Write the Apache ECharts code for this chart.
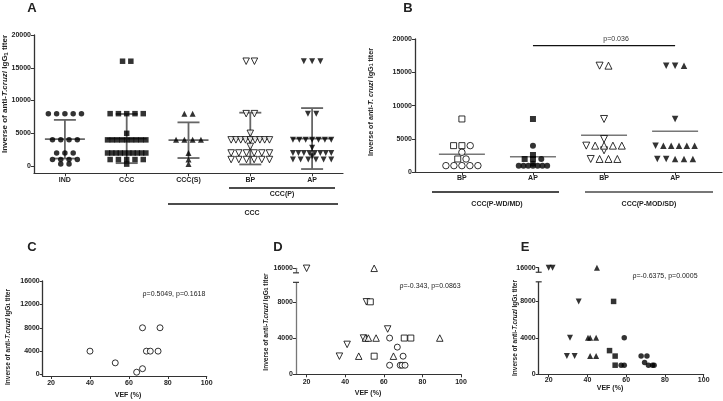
<!DOCTYPE html>
<html><head><meta charset="utf-8">
<script src="https://cdn.jsdelivr.net/npm/echarts@6/dist/echarts.min.js"></script>
<style>html,body{margin:0;padding:0;background:#fff}#c{width:723px;height:401px}</style>
</head><body><div id="c"></div>
<script>
// ---------- DATA ----------
const catA = ['IND', 'CCC', 'CCC(S)', 'BP', 'AP'];
const yTicksA = [0, 5000, 10000, 15000, 20000];
const aIND  = [8000,8000,8000,8000,8000, 4000,4000,4000,4000, 2000,2000,2000, 1000,1000,1000,1000, 300,300];
const aCCC  = [16000,16000, 8000,8000,8000,8000,8000, 5000, 4000,4000,4000,4000,4000,4000,4000,4000,4000,
               2000,2000,2000,2000,2000,2000,2000,2000,2000,2000, 1000,1000,1000,1000,1000, 300];
const aCCCS = [8000,8000, 4000,4000,4000,4000, 2000, 1000, 300];
const aBP   = [16000,16000, 8000,8000, 5000, 4000,4000,4000,4000,4000,4000,4000,4000,4000, 3000,
               2000,2000,2000,2000,2000,2000, 1000,1000,1000,1000,1000,1000];
const aAP   = [16000,16000,16000, 8000,8000, 4000,4000,4000,4000,4000,4000,4000, 2800,
               2000,2000,2000,2000,2000,2000,2000,2000, 1500, 1000,1000,1000,1000,1000,1000];
const meanA = [4100, 4200, 3950, 4200, 4200];
const sdA   = [2950, 3750, 2720, 3950, 4650];

const catB = ['BP', 'AP', 'BP', 'AP'];
const yTicksB = [0, 5000, 10000, 15000, 20000];
const bBP1sq = [8000, 4000, 4000, 2000];
const bBP1ci = [4000, 3000, 2000, 1000, 1000, 1000, 1000, 1000];
const bAP1sq = [8000, 2600, 2000, 2000];
const bAP1ci = [4000, 2000, 1300, 1000, 1000, 1000, 1000, 1000, 1000, 1000];
const bBP2dn = [16000, 8000, 5000, 4000, 3300, 2000];
const bBP2up = [16000, 4000, 4000, 4000, 4000, 2000, 2000, 2000];
const bAP2dn = [16000, 16000, 8000, 4000, 2000, 2000];
const bAP2up = [16000, 4000, 4000, 4000, 4000, 4000, 2000, 2000, 2000];
const meanB = [2700, 2330, 5570, 6160];
const pTextB = 'p=0.036';
const pLevelB = 19000;

const vefTicks = [20, 40, 60, 80, 100];
const yTicksC = [0, 4000, 8000, 12000, 16000];
const yTicksDE = [0, 4000, 8000, 16000];
const cCi = [[40,4000],[53,2000],[64,400],[67,1000],[67,8000],[69,4000],[71,4000],[75,4000],[76,8000]];
const dDn = [[20,16000],[51,8000],[62,5000],[41,3300],[37,2000],[49.5,4000]];
const dUp = [[55,16000],[50.5,4000],[52,4000],[56,4000],[89,4000],[47,2000],[65,2000]];
const dSq = [[53,8000],[70.6,4000],[74,4000],[55,2000]];
const dCi = [[63,4000],[67,3000],[70,2000],[63,1000],[68.5,1000],[69.5,1000],[71,1000]];
const eDn = [[20,16000],[22,16000],[35.5,8000],[31,4000],[29.4,2000],[33.4,2000]];
const eUp = [[44.9,16000],[40.3,4000],[41.4,4000],[44.5,4000],[41.4,2000],[44.5,2000]];
const eSq = [[53.5,8000],[51.4,2600],[54.3,2000],[54.3,1000]];
const eCi = [[59,4000],[57.4,1000],[59,1000],[67.7,2000],[70.7,2000],[69.5,1300],[71.5,1000],[73.6,1000],[74.4,1000]];
const corrC = 'ρ=0.5049, p=0.1618';
const corrD = 'ρ=-0.343, p=0.0863';
const corrE = 'ρ=-0.6375, p=0.0005';

// ---------- HELPERS ----------
const FONT = '"Liberation Sans", Arial, sans-serif';
const TOP = 11700;           // display position of the 16000 value above the axis break
const brk = v => (v > 8000 ? TOP : v);
const BRK_LO = 10150, BRK_HI = 11200;

function swarm(ci, seriesVals, step0, span) {
  const rows = new Map();
  seriesVals.forEach((vals, si) => vals.forEach(v => {
    if (!rows.has(v)) rows.set(v, []);
    rows.get(v).push(si);
  }));
  const out = seriesVals.map(() => []);
  rows.forEach((row, v) => {
    const n = row.length;
    const step = n > 1 ? Math.min(step0, span / (n - 1)) : 0;
    row.forEach((si, k) => out[si].push([ci + (k - (n - 1) / 2) * step, v]));
  });
  return out;
}

const lbl = {fontFamily: FONT, fontWeight: 'bold', fontSize: 7, color: '#222'};
function xAx(gi, min, max, vals, fmt, margin) {
  return {gridIndex: gi, type: 'value', min, max,
    axisLine: {onZero: false, lineStyle: {color: '#333', width: 1.2}},
    axisTick: {customValues: vals, length: 3, lineStyle: {color: '#333'}},
    axisLabel: Object.assign({customValues: vals, formatter: fmt, margin: margin}, lbl),
    splitLine: {show: false}};
}
function yAx(gi, min, max, vals, fmt, color) {
  return {gridIndex: gi, type: 'value', min, max,
    axisLine: {show: true, onZero: false, lineStyle: {color: color || '#333', width: 1.3}},
    axisTick: {show: true, customValues: vals, length: 3, lineStyle: {color: '#333'}},
    axisLabel: Object.assign({customValues: vals, formatter: fmt, margin: 3}, lbl),
    splitLine: {show: false}};
}
const openSt = {color: '#fff', borderColor: '#000', borderWidth: 1};
const fillSt = {color: '#000'};
function sc(gi, data, symbol, size, style, rot) {
  return {type: 'scatter', xAxisIndex: gi, yAxisIndex: gi, data, symbol, symbolSize: size,
    symbolRotate: rot || 0, itemStyle: style, silent: true, z: 3, animation: false};
}
function yTitle(x, y, spacedCruzi, fs) {
  return {type: 'text', x, y, rotation: Math.PI / 2,
    style: {text: '{n|Inverse of anti-}{i|' + (spacedCruzi ? 'T. cruzi' : 'T.cruzi') + '}{n| IgG}{s|1}{n| titer}',
      align: 'center', verticalAlign: 'middle',
      rich: {n: {fontFamily: FONT, fontWeight: 'bold', fontSize: fs, fill: '#222'},
             i: {fontFamily: FONT, fontWeight: 'bold', fontStyle: 'italic', fontSize: fs, fill: '#222'},
             s: {fontFamily: FONT, fontWeight: 'bold', fontSize: fs * 0.7, fill: '#222', verticalAlign: 'bottom'}}}};
}
function txt(x, y, t, size, bold, align) {
  return {type: 'text', x, y, style: {text: t, fontFamily: FONT, fontSize: size,
    fontWeight: bold ? 'bold' : 'normal', fill: '#222', align: align || 'center', verticalAlign: 'middle'}};
}
function hline(x1, x2, y, color, w) {
  return {type: 'line', shape: {x1, y1: y, x2, y2: y}, style: {stroke: color, lineWidth: w}};
}
function breakSeries(gi, xmin) {
  return {type: 'custom', xAxisIndex: gi, yAxisIndex: gi, data: [[xmin, BRK_LO, BRK_HI]], z: 4, silent: true,
    renderItem: (p, api) => {
      const lo = api.coord([api.value(0), api.value(1)]);
      const hi = api.coord([api.value(0), api.value(2)]);
      const st = {stroke: '#333', lineWidth: 1.2};
      return {type: 'group', children: [
        {type: 'rect', shape: {x: lo[0] - 3, y: hi[1], width: 6, height: lo[1] - hi[1]}, style: {fill: '#fff'}},
        {type: 'line', shape: {x1: lo[0] - 3, y1: lo[1], x2: lo[0] + 3, y2: lo[1]}, style: st},
        {type: 'line', shape: {x1: hi[0] - 3, y1: hi[1], x2: hi[0] + 3, y2: hi[1]}, style: st}]};
    }};
}

// ---------- PANEL A ----------
const aGroups = [aIND, aCCC, aCCCS, aBP, aAP];
const aPts = aGroups.map((g, i) => swarm(i, [g], 0.134, 0.62)[0]);
const errA = {type: 'custom', xAxisIndex: 0, yAxisIndex: 0, z: 1, silent: true,
  data: catA.map((c, i) => [i, meanA[i], sdA[i]]),
  renderItem: (p, api) => {
    const i = api.value(0), m = api.value(1), s = api.value(2);
    const c = api.coord([i, m]), t = api.coord([i, m + s]), b = api.coord([i, m - s]);
    const st = {stroke: '#666', lineWidth: 1.8};
    return {type: 'group', children: [
      {type: 'line', shape: {x1: c[0], y1: t[1], x2: c[0], y2: b[1]}, style: st},
      {type: 'line', shape: {x1: c[0] - 20, y1: c[1], x2: c[0] + 20, y2: c[1]}, style: st},
      {type: 'line', shape: {x1: c[0] - 11, y1: t[1], x2: c[0] + 11, y2: t[1]}, style: st},
      {type: 'line', shape: {x1: c[0] - 11, y1: b[1], x2: c[0] + 11, y2: b[1]}, style: st}]};
  }};

// ---------- PANEL B ----------
const b0 = swarm(0, [bBP1sq, bBP1ci], 0.117, 0.45);
const b1 = swarm(1, [bAP1sq, bAP1ci], 0.117, 0.40);
const b2 = swarm(2, [bBP2dn, bBP2up], 0.125, 0.55);
const b3 = swarm(3, [bAP2dn, bAP2up], 0.125, 0.55);
const meanLinesB = {type: 'custom', xAxisIndex: 1, yAxisIndex: 1, z: 1, silent: true,
  data: catB.map((c, i) => [i, meanB[i]]),
  renderItem: (p, api) => {
    const c = api.coord([api.value(0), api.value(1)]);
    return {type: 'line', shape: {x1: c[0] - 23, y1: c[1], x2: c[0] + 23, y2: c[1]}, style: {stroke: '#777', lineWidth: 1.4}};
  }};
const pBarB = {type: 'custom', xAxisIndex: 1, yAxisIndex: 1, z: 1, silent: true,
  data: [[1, 3, pLevelB]],
  renderItem: (p, api) => {
    const a = api.coord([api.value(0), api.value(2)]);
    const b = api.coord([api.value(1), api.value(2)]);
    return {type: 'group', children: [
      {type: 'line', shape: {x1: a[0], y1: a[1], x2: b[0], y2: b[1]}, style: {stroke: '#111', lineWidth: 1.2}},
      {type: 'text', x: (a[0] + b[0]) / 2 + 12, y: a[1] - 3,
        style: {text: pTextB, fontFamily: FONT, fontSize: 7, fill: '#333', align: 'center', verticalAlign: 'bottom'}}]};
  }};

const mapBrk = arr => arr.map(p => [p[0], brk(p[1])]);

const option = {
  animation: false,
  grid: [
    {left: 34, top: 35, width: 309, height: 138.3},
    {left: 415, top: 39, width: 307, height: 133.3},
    {left: 42.7, top: 281, width: 164, height: 95},
    {left: 296, top: 268.3, width: 165, height: 106},
    {left: 538.7, top: 267.7, width: 165, height: 106.6}
  ],
  xAxis: [
    xAx(0, -0.5, 4.5, [0, 1, 2, 3, 4], v => catA[Math.round(v)], 3),
    xAx(1, -0.66, 3.66, [0, 1, 2, 3], v => catB[Math.round(v)], 2),
    xAx(2, 15.7, 100, vefTicks, v => String(v), 4),
    xAx(3, 14.5, 100, vefTicks, v => String(v), 4),
    xAx(4, 14.85, 100, vefTicks, v => String(v), 2)
  ],
  yAxis: [
    yAx(0, -1100, 20000, yTicksA, v => String(v)),
    yAx(1, 0, 20000, yTicksB, v => String(v)),
    yAx(2, -250, 16000, yTicksC, v => String(v)),
    yAx(3, 0, TOP, yTicksDE.map(brk), v => (v === TOP ? '16000' : String(v)), '#777'),
    yAx(4, 0, TOP, yTicksDE.map(brk), v => (v === TOP ? '16000' : String(v)))
  ],
  series: [
    errA,
    sc(0, aPts[0], 'circle', 5.5, fillSt),
    sc(0, aPts[1], 'rect', 5.5, fillSt),
    sc(0, aPts[2], 'triangle', 6, fillSt),
    sc(0, aPts[3], 'triangle', 6.5, openSt, 180),
    sc(0, aPts[4], 'triangle', 6, fillSt, 180),
    meanLinesB, pBarB,
    sc(1, b0[0], 'rect', 6, openSt), sc(1, b0[1], 'circle', 6.5, openSt),
    sc(1, b1[0], 'rect', 6, fillSt), sc(1, b1[1], 'circle', 6, fillSt),
    sc(1, b2[0], 'triangle', 7, openSt, 180), sc(1, b2[1], 'triangle', 7, openSt),
    sc(1, b3[0], 'triangle', 6.5, fillSt, 180), sc(1, b3[1], 'triangle', 6.5, fillSt),
    sc(2, cCi, 'circle', 6, openSt),
    breakSeries(3, 14.5),
    sc(3, mapBrk(dDn), 'triangle', 6.5, openSt, 180), sc(3, mapBrk(dUp), 'triangle', 6.5, openSt),
    sc(3, mapBrk(dSq), 'rect', 6, openSt), sc(3, mapBrk(dCi), 'circle', 6, openSt),
    breakSeries(4, 14.85),
    sc(4, mapBrk(eDn), 'triangle', 6, fillSt, 180), sc(4, mapBrk(eUp), 'triangle', 6, fillSt),
    sc(4, mapBrk(eSq), 'rect', 5.5, fillSt), sc(4, mapBrk(eCi), 'circle', 5.5, fillSt)
  ],
  graphic: [
    txt(32, 8, 'A', 13, true), txt(408, 8, 'B', 13, true),
    txt(32, 247, 'C', 13, true), txt(278, 247, 'D', 13, true), txt(525, 247, 'E', 13, true),
    yTitle(5, 94, false, 8), yTitle(371, 102, true, 7.2),
    yTitle(8, 337, false, 6.5), yTitle(266, 322, false, 6.6), yTitle(515, 328, false, 6.5),
    hline(229, 335, 188, '#111', 1.3), txt(282, 194, 'CCC(P)', 7, true),
    hline(168, 338, 204, '#111', 1.3), txt(252, 213, 'CCC', 7, true),
    hline(432, 559, 192, '#111', 1.4), txt(497, 204, 'CCC(P-WD/MD)', 7, true),
    hline(585, 713, 192, '#777', 2), txt(649, 204, 'CCC(P-MOD/SD)', 7, true),
    txt(128, 395, 'VEF (%)', 7, true), txt(368, 393, 'VEF (%)', 7, true), txt(610, 388, 'VEF (%)', 7, true),
    txt(174, 294, corrC, 7, false), txt(430, 286, corrD, 7, false), txt(665, 276, corrE, 7, false)
  ]
};
const chart = echarts.init(document.getElementById('c'), null, {renderer: 'canvas'});
chart.setOption(option);
</script></body></html>
